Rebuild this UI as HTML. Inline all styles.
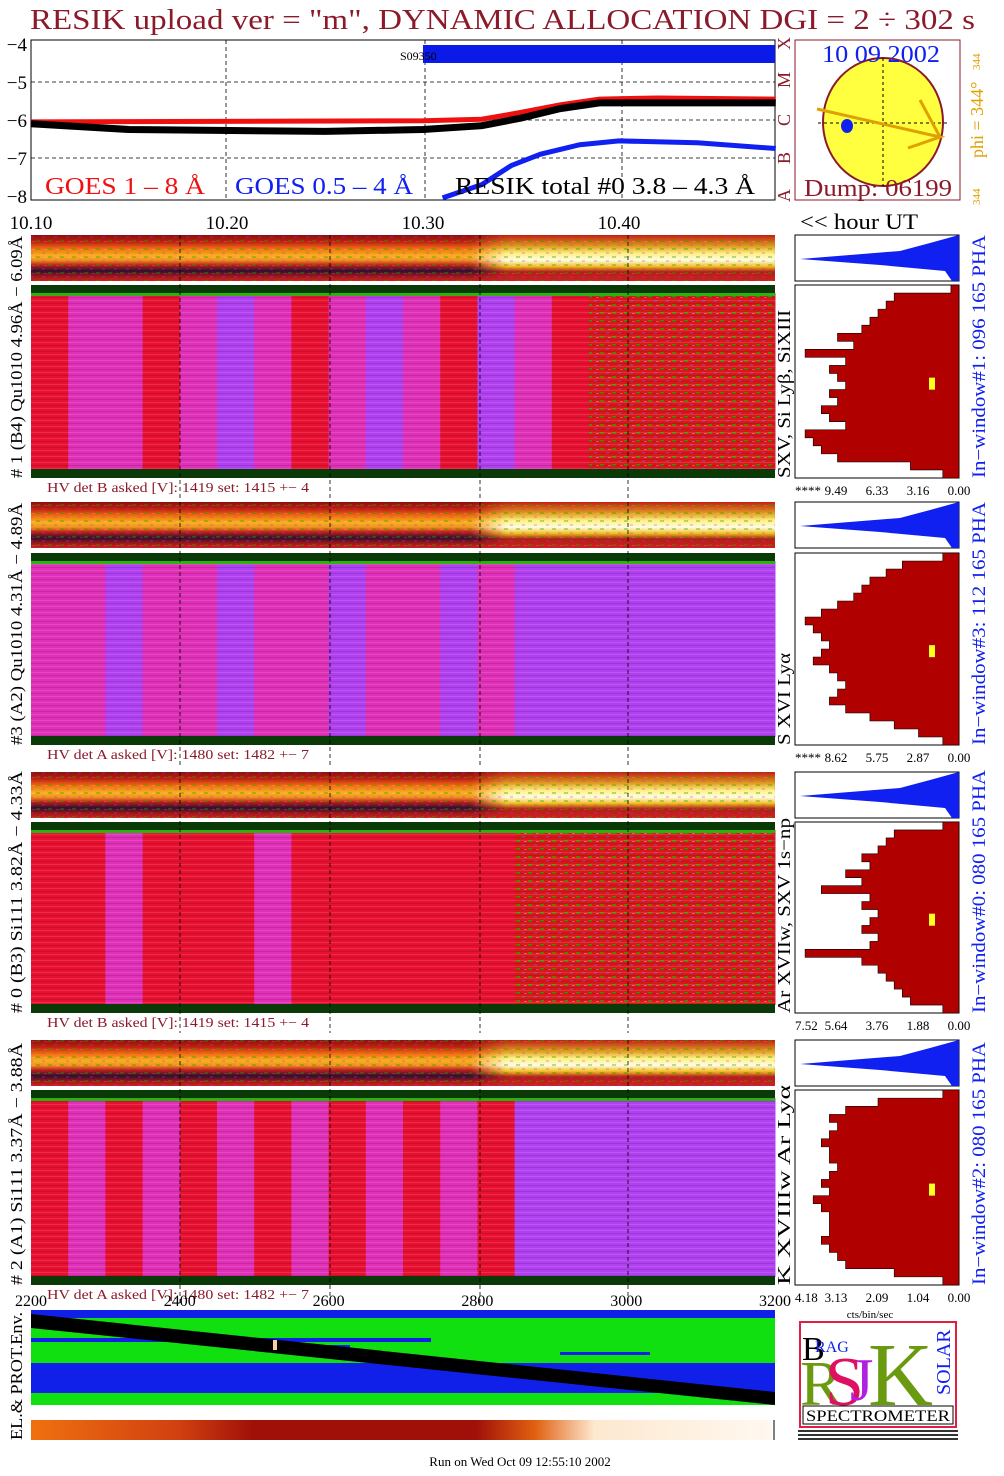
<!DOCTYPE html>
<html><head><meta charset="utf-8"><style>
body{margin:0;background:#fff;width:1004px;height:1476px;overflow:hidden}
svg{display:block;font-family:"Liberation Serif",serif}
</style></head><body>
<svg id="s" width="1004" height="1476" viewBox="0 0 1004 1476">
<defs>
<pattern id="rows" width="745" height="6" patternUnits="userSpaceOnUse">
<rect x="0" y="0" width="745" height="1" fill="#ffffff" opacity="0.12"/>
<rect x="0" y="3" width="745" height="1" fill="#000" opacity="0.12"/>
</pattern>
<pattern id="noise" width="12" height="8" patternUnits="userSpaceOnUse">
<rect x="0" y="0" width="4" height="2" fill="#3a9a10" opacity="0.7"/>
<rect x="6" y="4" width="3" height="2" fill="#9a40e0" opacity="0.5"/>
<rect x="8" y="1" width="3" height="1" fill="#fff" opacity="0.3"/>
</pattern>
<linearGradient id="strip" x1="0" y1="0" x2="0" y2="1">
<stop offset="0" stop-color="#8a1010"/><stop offset="0.15" stop-color="#c02010"/>
<stop offset="0.3" stop-color="#f07010"/><stop offset="0.45" stop-color="#f8b020"/>
<stop offset="0.55" stop-color="#f09020"/><stop offset="0.65" stop-color="#c02018"/>
<stop offset="0.78" stop-color="#301030"/><stop offset="0.9" stop-color="#a01818"/>
<stop offset="1" stop-color="#d02020"/></linearGradient>
<linearGradient id="stripR" x1="0" y1="0" x2="0" y2="1">
<stop offset="0" stop-color="#c02010"/><stop offset="0.25" stop-color="#e0a020"/>
<stop offset="0.4" stop-color="#fff080"/><stop offset="0.55" stop-color="#fffce0"/>
<stop offset="0.68" stop-color="#f0c020"/><stop offset="0.8" stop-color="#b02018"/>
<stop offset="1" stop-color="#d02020"/></linearGradient>
<linearGradient id="hfade" x1="0" y1="0" x2="1" y2="0">
<stop offset="0" stop-color="#fff" stop-opacity="0"/><stop offset="0.12" stop-color="#fff" stop-opacity="1"/></linearGradient>
<mask id="fadeMask"><rect x="470" y="0" width="305" height="1476" fill="url(#hfade)"/></mask>
<linearGradient id="bar" x1="0" y1="0" x2="1" y2="0">
<stop offset="0" stop-color="#f07010"/><stop offset="0.2" stop-color="#d04010"/>
<stop offset="0.3" stop-color="#a01008"/><stop offset="0.6" stop-color="#a01008"/>
<stop offset="0.68" stop-color="#e06010"/><stop offset="0.76" stop-color="#fde8d0"/>
<stop offset="1" stop-color="#fff8f0"/></linearGradient>
</defs>
<g id="root"></g>
</svg>
<script>
// ---- data ----
const timeTicks = [10.1, 10.2, 10.3, 10.4];
const tickLabels = ["10.10", "10.20", "10.30", "10.40"];
const yTicks = [-4, -5, -6, -7, -8];
const redT = [10.10, 10.30, 10.33, 10.35, 10.37, 10.39, 10.42, 10.48];
const redV = [-6.05, -6.02, -5.98, -5.8, -5.6, -5.45, -5.42, -5.45];
const blackT = [10.10, 10.15, 10.25, 10.30, 10.33, 10.35, 10.37, 10.39, 10.48];
const blackV = [-6.1, -6.25, -6.3, -6.25, -6.15, -5.95, -5.7, -5.55, -5.55];
const blueT = [10.31, 10.33, 10.345, 10.36, 10.38, 10.40, 10.44, 10.48];
const blueV = [-8.05, -7.7, -7.2, -6.9, -6.65, -6.55, -6.6, -6.75];
const panelCols = ["RMMRMPMRMPMRPMRNNNNN", "MMPMMPMMPMMPMPPPPPPP", "RRMRRRMRRRRRRNNNNNNN", "RMRMRMRMRMRMRPPPPPPP"];
const histProfiles = [
 [0.05,0.4,0.45,0.5,0.55,0.6,0.75,0.65,0.95,0.7,0.8,0.75,0.7,0.8,0.75,0.85,0.8,0.7,0.95,0.9,0.85,0.75,0.3,0.1],
 [0.1,0.35,0.45,0.55,0.6,0.65,0.75,0.85,0.95,0.9,0.85,0.8,0.85,0.9,0.8,0.75,0.7,0.75,0.8,0.7,0.55,0.4,0.25,0.1],
 [0.1,0.4,0.45,0.5,0.6,0.55,0.7,0.6,0.85,0.55,0.6,0.5,0.55,0.6,0.5,0.55,0.95,0.6,0.5,0.45,0.4,0.35,0.3,0.1],
 [0.1,0.5,0.7,0.8,0.75,0.8,0.85,0.8,0.8,0.75,0.8,0.85,0.8,0.9,0.85,0.8,0.8,0.8,0.85,0.8,0.75,0.7,0.4,0.1]];
const histTicks = [["****","9.49","6.33","3.16","0.00"],["****","8.62","5.75","2.87","0.00"],["7.52","5.64","3.76","1.88","0.00"],["4.18","3.13","2.09","1.04","0.00"]];
const bottomTicks = [2200, 2400, 2600, 2800, 3000, 3200];

const NS = "http://www.w3.org/2000/svg";
const root = document.getElementById('root');
function mk(tag, attrs, parent, text) {
  const el = document.createElementNS(NS, tag);
  for (const k in attrs) el.setAttribute(k, attrs[k]);
  if (text !== undefined) el.textContent = text;
  (parent || root).appendChild(el);
  return el;
}
function fit(el, len) { el.setAttribute('textLength', len); el.setAttribute('lengthAdjust', 'spacingAndGlyphs'); return el; }
const X0 = 31, XR = 775;
const xT = t => X0 + (t - 10.1) * 1960;
const yG = v => 44 + (-4 - v) * 38;

let e;
e = fit(mk('text', {x: 30, y: 29, 'font-size': 29, fill: '#8b1a2a'}, root, 'RESIK upload ver = "m", DYNAMIC ALLOCATION  DGI =   2 ÷ 302 s'), 945);



const topPlot = mk('g', {});


mk('rect', {x: X0, y: 40, width: XR - X0, height: 160, fill: '#fff', stroke: '#000'}, topPlot);
yTicks.forEach(v => {
  const t = mk('text', {x: 27, y: yG(v) + 7, 'font-size': 19, 'text-anchor': 'end'}, topPlot, '−' + (-v));
  
  
  if (v > -8 && v < -4) mk('line', {x1: X0, x2: XR, y1: yG(v), y2: yG(v), stroke: '#000', 'stroke-dasharray': '4 3', 'stroke-width': 0.8}, topPlot);
});
[226, 425, 622].forEach(x => mk('line', {x1: x, x2: x, y1: 40, y2: 200, stroke: '#000', 'stroke-dasharray': '4 3', 'stroke-width': 0.8}, topPlot));
e = mk('rect', {x: 423, y: 45, width: 352, height: 18, fill: '#0a1ae8'}, topPlot);


mk('text', {x: 400, y: 60, 'font-size': 12}, topPlot, 'S09350');
function series(T, V, col, w, name) {
  const p = mk('polyline', {points: T.map((t, i) => xT(t) + ',' + yG(V[i])).join(' '), fill: 'none', stroke: col, 'stroke-width': w}, topPlot);
  
  
}
series(redT, redV, '#f01010', 5, 'goes-1-8-line');
series(blackT, blackV, '#000', 7, 'resik-total-line');
series(blueT, blueV, '#1020f0', 5, 'goes-05-4-line');
[['GOES 1 – 8 Å', 45, '#f01010', 160], ['GOES 0.5 – 4 Å', 235, '#1020f0', 178], ['RESIK total #0  3.8 – 4.3 Å', 455, '#000', 300]].forEach(l => {
  const t = fit(mk('text', {x: l[1], y: 194, 'font-size': 24, fill: l[2]}, topPlot, l[0]), l[3]);
  
  
});
['A', 'B', 'C', 'M', 'X'].forEach((c, i) => {
  mk('text', {x: 0, y: 0, 'font-size': 18, fill: '#8b1a2a', transform: `translate(790,${yG(-8 + i) + 6}) rotate(-90)`}, topPlot, c);
});
tickLabels.forEach((l, i) => {
  const t = mk('text', {x: xT(timeTicks[i]), y: 229, 'font-size': 19, 'text-anchor': 'middle'}, root, l);
  
  
});
fit(mk('text', {x: 800, y: 229, 'font-size': 22}, root, '<< hour UT'), 118);

const sunG = mk('g', {});


mk('rect', {x: 795, y: 40, width: 165, height: 160, fill: '#fff', stroke: '#8b1a2a'}, sunG);
mk('ellipse', {cx: 883, cy: 122, rx: 60, ry: 64, fill: '#ffff40', stroke: '#8b1a2a', 'stroke-width': 2}, sunG);
mk('line', {x1: 883, x2: 883, y1: 58, y2: 186, stroke: '#000', 'stroke-dasharray': '3 3'}, sunG);
mk('line', {x1: 818, x2: 950, y1: 123, y2: 123, stroke: '#000', 'stroke-dasharray': '3 3'}, sunG);
mk('polyline', {points: '817,109 940,137 908,148', fill: 'none', stroke: '#e0a000', 'stroke-width': 3}, sunG);
mk('line', {x1: 940, x2: 920, y1: 137, y2: 100, stroke: '#e0a000', 'stroke-width': 3}, sunG);
mk('ellipse', {cx: 847, cy: 126, rx: 6, ry: 7, fill: '#1020f0'}, sunG);
fit(mk('text', {x: 822, y: 62, 'font-size': 24, fill: '#1020f0'}, sunG, '10 09 2002'), 118);
fit(mk('text', {x: 804, y: 196, 'font-size': 24, fill: '#8b1a2a'}, sunG, 'Dump: 06199'), 148);
mk('text', {x: 0, y: 0, 'font-size': 18, fill: '#e0a000', transform: 'translate(983,158) rotate(-90)'}, sunG, 'phi = 344°');
mk('text', {x: 0, y: 0, 'font-size': 11, fill: '#e0a000', transform: 'translate(980,70) rotate(-90)'}, sunG, '344');
mk('text', {x: 0, y: 0, 'font-size': 11, fill: '#e0a000', transform: 'translate(980,205) rotate(-90)'}, sunG, '344');

const panels = [
 {s: 235, m: 285, b: 478, hv: 'HV det B asked [V]:  1419 set:  1415 +−   4', left: '# 1 (B4) Qu1010 4.96Å − 6.09Å', line: 'SXV, Si Lyβ, SiXIII', ll: 168, win: 'In−window#1:  096 165 PHA'},
 {s: 502, m: 553, b: 745, hv: 'HV det A asked [V]:  1480 set:  1482 +−    7', left: '#3 (A2) Qu1010  4.31Å − 4.89Å', line: 'S XVI Lyα', ll: 92, win: 'In−window#3:  112 165 PHA'},
 {s: 772, m: 822, b: 1013, hv: 'HV det B asked [V]:  1419 set:  1415 +−   4', left: '# 0 (B3) Si111  3.82Å − 4.33Å', line: 'Ar XVIIw,  SXV 1s−np', ll: 195, win: 'In−window#0:  080 165 PHA'},
 {s: 1040, m: 1090, b: 1285, hv: 'HV det A asked [V]:  1480 set:  1482 +−    7', left: '# 2 (A1) Si111  3.37Å − 3.88Å', line: 'K XVIIIw  Ar Lyα', ll: 200, win: 'In−window#2:  080 165 PHA'}];
const colMap = {R: '#e81030', M: '#e030b8', P: '#b040f0', N: '#d81818'};
panels.forEach((p, pi) => {
  const g = mk('g', {});
  
  
  mk('rect', {x: X0, y: p.s, width: XR - X0, height: 46, fill: 'url(#strip)'}, g);
  mk('rect', {x: 470, y: p.s, width: XR - 470, height: 46, fill: 'url(#stripR)', mask: 'url(#fadeMask)'}, g);
  mk('rect', {x: X0, y: p.s, width: XR - X0, height: 46, fill: 'url(#noise)', opacity: 0.5}, g);
  const cols = panelCols[pi], n = cols.length, cw = (XR - X0) / n;
  for (let i = 0; i < n; i++) {
    const r = mk('rect', {x: X0 + i * cw, y: p.m + 8, width: cw + 0.5, height: p.b - p.m - 16, fill: colMap[cols[i]]}, g);
    
    
    if (cols[i] === 'N') mk('rect', {x: X0 + i * cw, y: p.m + 8, width: cw + 0.5, height: p.b - p.m - 16, fill: 'url(#noise)'}, g);
  }
  mk('rect', {x: X0, y: p.m + 8, width: XR - X0, height: p.b - p.m - 16, fill: 'url(#rows)'}, g);
  mk('rect', {x: X0, y: p.m, width: XR - X0, height: 9, fill: '#0a3a08'}, g);
  mk('rect', {x: X0, y: p.m + 8, width: XR - X0, height: 3, fill: '#30b010'}, g);
  mk('rect', {x: X0, y: p.b - 9, width: XR - X0, height: 9, fill: '#0a3a08'}, g);
  [180, 330, 480, 628].forEach(x => mk('line', {x1: x, x2: x, y1: p.s, y2: p.b + 20, stroke: '#000', 'stroke-dasharray': '4 3', 'stroke-width': 0.8}, g));
  fit(mk('text', {x: 47, y: p.b + 14, 'font-size': 14, fill: '#8b1a2a'}, g, p.hv), 262);
  fit(mk('text', {x: 0, y: 0, 'font-size': 17, transform: `translate(22,${p.b}) rotate(-90)`}, g, p.left), 242);
  fit(mk('text', {x: 0, y: 0, 'font-size': 18, transform: `translate(790,${p.b}) rotate(-90)`}, g, p.line), p.ll);
  fit(mk('text', {x: 0, y: 0, 'font-size': 19, fill: '#1020f0', transform: `translate(985,${p.b}) rotate(-90)`}, g, p.win), 243);
  const h = mk('g', {}, g);
  
  
  mk('rect', {x: 795, y: p.s, width: 164, height: 46, fill: '#fff', stroke: '#000'}, h);
  mk('path', {d: `M959,${p.s} L930,${p.s + 8} L900,${p.s + 16} L800,${p.s + 24} L880,${p.s + 30} L945,${p.s + 36} L952,${p.s + 46} L959,${p.s + 46} Z`, fill: '#1020f0'}, h);
  mk('rect', {x: 795, y: p.m, width: 164, height: p.b - p.m, fill: '#fff', stroke: '#000'}, h);
  const prof = histProfiles[pi], rh = (p.b - p.m) / prof.length;
  let d = `M959,${p.m}`;
  prof.forEach((v, i) => { const x = 959 - v * 162; d += ` L${x},${p.m + i * rh} L${x},${p.m + (i + 1) * rh}`; });
  d += ` L959,${p.b} Z`;
  const hp = mk('path', {d, fill: '#b00000', stroke: '#000', 'stroke-width': 0.6}, h);
  
  
  mk('rect', {x: 929, y: p.m + (p.b - p.m) * 0.48, width: 6, height: 12, fill: '#ffff20'}, h);
  histTicks[pi].forEach((t, i) => mk('text', {x: 795 + i * 41, y: p.b + 17, 'font-size': 13, 'text-anchor': i === 0 ? 'start' : 'middle'}, h, t));
});
mk('text', {x: 870, y: 1318, 'font-size': 11, 'text-anchor': 'middle'}, root, 'cts/bin/sec');

bottomTicks.forEach(v => {
  const t = mk('text', {x: X0 + (v - 2200) / 1000 * (XR - X0), y: 1306, 'font-size': 16, 'text-anchor': 'middle'}, root, String(v));
  
  
});

const envG = mk('g', {});


mk('rect', {x: X0, y: 1310, width: XR - X0, height: 95, fill: '#1020e8'}, envG);
mk('rect', {x: X0, y: 1318, width: XR - X0, height: 45, fill: '#10e010'}, envG);
mk('rect', {x: X0, y: 1338, width: 400, height: 4, fill: '#1020e8'}, envG);
mk('rect', {x: 260, y: 1345, width: 90, height: 4, fill: '#1020e8'}, envG);
mk('rect', {x: 560, y: 1352, width: 90, height: 3, fill: '#1020e8'}, envG);
mk('rect', {x: X0, y: 1363, width: XR - X0, height: 30, fill: '#1020e8'}, envG);
mk('rect', {x: X0, y: 1393, width: XR - X0, height: 12, fill: '#10e010'}, envG);
mk('polygon', {points: `${X0},1314 ${X0},1328 ${XR},1405 ${XR},1392`, fill: '#000'}, envG);
mk('rect', {x: 273, y: 1340, width: 4, height: 10, fill: '#f8d0a0'}, envG);
fit(mk('text', {x: 0, y: 0, 'font-size': 17, transform: 'translate(22,1440) rotate(-90)'}, envG, 'EL.& PROT.Env.'), 128);
e = mk('rect', {x: X0, y: 1420, width: XR - X0 - 3, height: 20, fill: 'url(#bar)'});


mk('line', {x1: XR - 1, x2: XR - 1, y1: 1420, y2: 1440, stroke: '#000'});

const logoG = mk('g', {});


mk('rect', {x: 800, y: 1322, width: 156, height: 105, fill: '#fff', stroke: '#e02040', 'stroke-width': 2}, logoG);
mk('text', {x: 800, y: 1405, 'font-size': 64, fill: '#6a9a10'}, logoG, 'R');
mk('text', {x: 825, y: 1405, 'font-size': 70, fill: '#e01060'}, logoG, 'S');
mk('text', {x: 850, y: 1400, 'font-size': 60, fill: '#b020e0'}, logoG, 'J');
mk('text', {x: 868, y: 1405, 'font-size': 90, fill: '#6a9a10'}, logoG, 'K');
mk('text', {x: 802, y: 1360, 'font-size': 34, fill: '#000'}, logoG, 'B');
mk('text', {x: 815, y: 1352, 'font-size': 16, fill: '#1020f0'}, logoG, 'RAG');
mk('text', {x: 0, y: 0, 'font-size': 20, fill: '#1020f0', transform: 'translate(950,1395) rotate(-90)'}, logoG, 'SOLAR');
mk('rect', {x: 803, y: 1406, width: 150, height: 18, fill: '#fff', stroke: '#000'}, logoG);
fit(mk('text', {x: 806, y: 1421, 'font-size': 16}, logoG, 'SPECTROMETER'), 144);
for (let i = 0; i < 3; i++) mk('rect', {x: 798, y: 1430 + i * 4, width: 160, height: 2, fill: '#333'}, logoG);

e = mk('text', {x: 520, y: 1466, 'font-size': 13, 'text-anchor': 'middle'}, root, 'Run on Wed Oct 09 12:55:10 2002');


</script>
</body></html>
